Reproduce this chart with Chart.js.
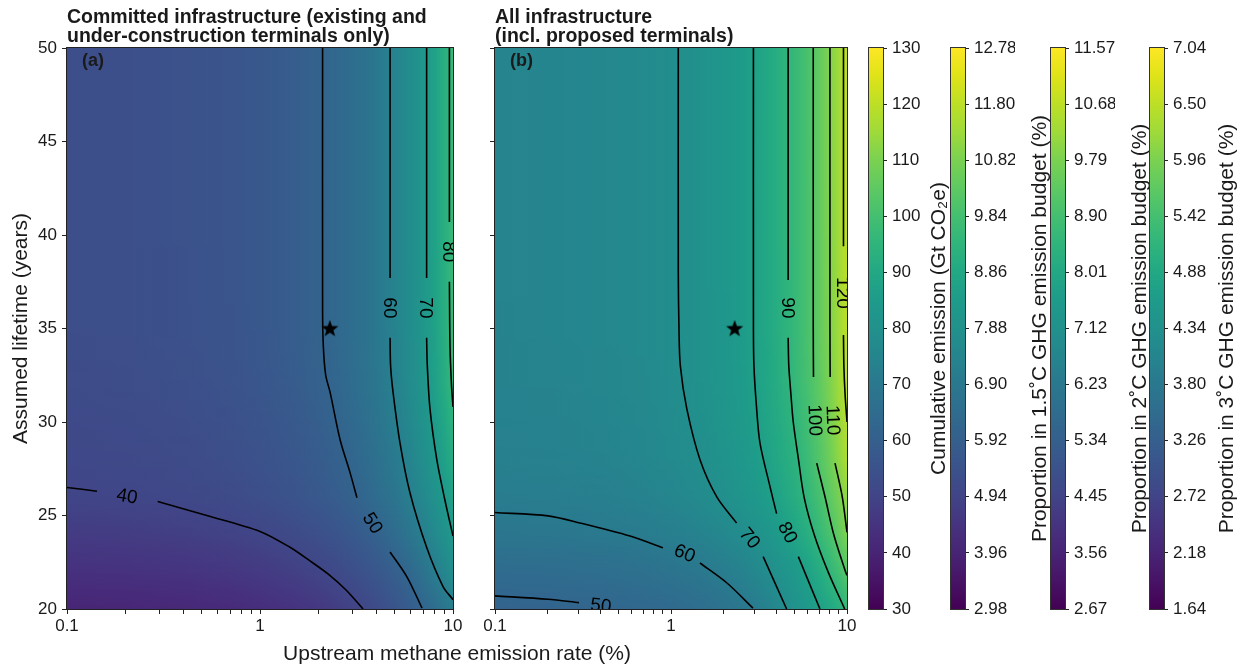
<!DOCTYPE html>
<html><head><meta charset="utf-8">
<script src="https://cdn.jsdelivr.net/npm/chart.js@4.4.1/dist/chart.umd.min.js"></script>
<style>
html,body{margin:0;padding:0;background:#fff;width:1248px;height:669px;overflow:hidden}
canvas{position:absolute;left:0;top:0}
</style></head><body>
<canvas id="pa" width="1248" height="669"></canvas>
<canvas id="pb" width="1248" height="669"></canvas>
<canvas id="c1" width="1248" height="669"></canvas>
<canvas id="c2" width="1248" height="669"></canvas>
<canvas id="c3" width="1248" height="669"></canvas>
<canvas id="c4" width="1248" height="669"></canvas>
<script>
// ---------------- DATA ----------------
const rates = [0.1,0.2,0.4,0.7,1,1.5,2,2.5,3,3.5,4,5,6,7,8,9,10];          // upstream methane emission rate (%)
const lifetimes = [20,22,24,26,28,30,32,35,40,45,50];                       // assumed lifetime (years)

// cumulative emission (Gt CO2e), rows = lifetimes, cols = rates
const emissionA = [
  [30.5,30.8,31.4,32.2,33.1,34.5,35.9,37.4,38.8,40.2,41.7,44.5,47.4,50.3,53.2,56.1,59.1],
  [34.0,34.3,34.9,35.8,36.6,38.1,39.6,41.1,42.6,44.0,45.5,48.4,51.6,55.3,59.0,62.4,65.8],
  [36.9,37.2,37.9,38.8,39.7,41.3,42.9,44.5,46.1,47.7,49.3,52.8,56.4,60.0,63.3,66.6,70.0],
  [39.6,39.9,40.6,41.6,42.6,44.3,46.0,47.7,49.4,51.1,52.9,56.3,59.8,63.3,66.7,70.0,73.4],
  [40.5,40.9,41.6,42.6,43.7,45.4,47.2,48.9,50.7,52.6,54.4,58.0,61.7,65.4,69.1,73.0,77.0],
  [41.0,41.4,42.2,43.3,44.4,46.3,48.1,50.0,51.9,53.8,55.7,59.4,63.2,67.1,70.9,75.1,79.2],
  [41.7,42.1,42.9,44.0,45.2,47.1,49.0,50.9,52.9,54.8,56.7,60.6,64.4,68.3,72.5,77.0,81.4],
  [42.3,42.7,43.5,44.6,45.7,47.7,49.6,51.5,53.4,55.3,57.2,61.1,64.9,68.7,73.0,77.6,82.1],
  [42.4,42.8,43.6,44.7,45.8,47.7,49.6,51.5,53.4,55.3,57.2,61.1,64.9,68.8,73.1,77.7,82.2],
  [42.4,42.8,43.6,44.7,45.8,47.7,49.6,51.5,53.4,55.3,57.2,61.1,64.9,68.8,73.1,77.7,82.2],
  [42.4,42.8,43.6,44.7,45.8,47.7,49.6,51.5,53.4,55.3,57.2,61.1,64.9,68.8,73.1,77.7,82.2]
];
const emissionB = [
  [48.5,48.9,49.6,50.7,51.8,53.8,56.0,58.3,60.5,63.6,66.7,71.9,75.9,79.9,83.7,87.4,91.1],
  [52.5,53.0,53.9,55.3,56.6,58.9,61.4,63.9,66.5,69.1,71.5,76.3,81.0,86.0,91.0,96.0,101.0],
  [57.9,58.4,59.3,60.7,62.1,64.4,66.7,69.1,71.6,74.2,76.8,82.1,87.3,92.6,97.8,103.6,109.6],
  [61.0,61.5,62.5,64.1,65.7,68.3,70.9,73.5,76.0,78.6,81.1,86.3,91.5,97.0,102.7,108.0,113.5],
  [62.9,63.4,64.4,66.0,67.6,70.2,72.8,75.4,78.1,80.7,83.5,88.5,94.0,100.0,106.2,112.5,118.4],
  [63.5,64.0,65.1,66.7,68.4,71.1,73.9,76.6,79.3,82.1,84.8,90.3,95.8,101.6,108.1,114.0,119.4],
  [64.1,64.6,65.7,67.4,69.1,71.8,74.5,77.3,80.0,82.9,85.9,91.7,97.2,103.0,109.4,115.2,120.6],
  [64.5,65.1,66.2,67.8,69.5,72.2,74.9,77.7,80.5,83.4,86.4,92.1,97.7,103.7,110.0,115.7,121.4],
  [64.6,65.2,66.3,67.9,69.6,72.3,75.0,77.8,80.6,83.5,86.5,92.2,97.8,103.8,110.1,115.8,121.5],
  [64.6,65.2,66.3,67.9,69.6,72.3,75.0,77.8,80.6,83.5,86.5,92.2,97.8,103.8,110.1,115.8,121.5],
  [64.6,65.2,66.3,67.9,69.6,72.3,75.0,77.8,80.6,83.5,86.5,92.2,97.8,103.8,110.1,115.8,121.5]
];

// contour lines [rate, lifetime]; null = gap for the inline label
const contourA40 = [[0.1,26.5],[0.143,26.3],null,[0.295,25.75],[0.53,25.0],[1,24.15],[1.43,23.3],[1.8,22.6],[2.3,21.8],[2.8,21.0],[3.42,20]];
const contourA50 = [[2.11,50],[2.11,36],[2.13,34],[2.19,32.5],[2.31,31.57],[2.6,29.05],[2.93,27.28],[3.18,25.95],null,[4.72,23.05],[5.78,21.71],[6.91,20.05]];
const contourA60 = [[4.72,50],[4.72,37.7],null,[4.72,34.5],[4.75,33],[4.89,31.6],[5.31,28.9],[5.99,26.2],[7.3,23.3],[8.88,21.2],[10,20.5]];
const contourA70 = [[7.3,50],[7.3,37.7],null,[7.3,34.5],[7.36,33],[7.6,30.7],[8.24,28],[9.09,25.8],[10,23.9]];
const contourA80 = [[9.58,50],[9.58,40.7],null,[9.58,37.5],[9.65,34],[9.82,32],[10,30.8]];

const contourB50 = [[0.1,20.7],[0.2,20.52],[0.3,20.34]];
const contourB60 = [[0.1,25.16],[0.2,24.98],[0.304,24.6],[0.585,23.9],[0.9,23.27],null,[1.46,22.46],[2.08,21.39],[2.92,20.05]];
const contourB70 = [[1.1,50],[1.1,38],[1.11,35],[1.13,33],[1.23,30.7],[1.46,28],[1.82,26],[2.36,24.6],null,[3.34,22.8],[4.54,20]];
const contourB80 = [[2.94,50],[2.94,35],[2.96,33],[3.05,31],[3.2,28.9],[3.65,26.55],[3.98,25.1],null,[5.29,22.8],[7.02,20]];
const contourB90 = [[4.63,50],[4.63,37.6],null,[4.63,34.5],[4.67,33],[4.8,31.5],[4.95,30],[5.3,28],[5.7,26],[6.5,24],[7.8,22],[9.7,20]];
const contourB100 = [[6.43,50],[6.43,35],[6.45,32.4],null,[6.73,27.8],[7.5,26],[8.4,24],[9.8,22],[10,21.8]];
const contourB110 = [[8.0,50],[8.0,35],[8.02,32.4],null,[8.55,27.8],[9.4,26],[10,24.1]];
const contourB120 = [[9.55,50],[9.55,39.4],null,[9.55,34.65],[9.6,33],[9.75,31.5],[10,30]];

const starPoint = [2.3, 35];

const xTickValues = [0.1,0.2,0.3,0.4,0.5,0.6,0.7,0.8,0.9,1,2,3,4,5,6,7,8,9,10];
const xMajorTicks = [0.1,1,10];
const xTickLabels = ['0.1','1','10'];
const yTickValues = [20,25,30,35,40,45,50];

const cbEmissionTicks = [30,40,50,60,70,80,90,100,110,120,130];
const cb15Ticks = [2.98,3.96,4.94,5.92,6.90,7.88,8.86,9.84,10.82,11.80,12.78];
const cb2Ticks  = [2.67,3.56,4.45,5.34,6.23,7.12,8.01,8.90,9.79,10.68,11.57];
const cb3Ticks  = [1.64,2.18,2.72,3.26,3.80,4.34,4.88,5.42,5.96,6.50,7.04];

// ---------------- LAYOUT / STYLE ----------------
const W = 1248, H = 669, TOP = 48, BOTTOM = 609;
const PA = {left:67, right:453}, PB = {left:495, right:847};
const FONT = "'Liberation Sans', Arial, Helvetica, sans-serif";
const INK = '#1a1a1a';

Chart.defaults.font.family = FONT;
Chart.defaults.color = INK;
Chart.defaults.animation = false;
Chart.defaults.responsive = false;
Chart.defaults.events = [];
Chart.defaults.plugins.legend.display = false;
Chart.defaults.plugins.tooltip.enabled = false;

const VIR = ['#440154','#471365','#482475','#46337f','#414487','#3b528b','#355f8d','#2f6c8e','#2a788e','#25858e','#21918c','#1e9b8a','#22a884','#2fb47c','#44bf70','#5ec962','#7ad151','#9fda3a','#bddf26','#dfe318','#fde725'];
const VRGB = VIR.map(h=>[parseInt(h.slice(1,3),16),parseInt(h.slice(3,5),16),parseInt(h.slice(5,7),16)]);
function viridis(t){
  t = Math.min(1, Math.max(0, t));
  const f = t*(VIR.length-1); const i = Math.min(VIR.length-2, Math.floor(f)); const u = f-i;
  const a = VRGB[i], b = VRGB[i+1];
  return 'rgb(' + Math.round(a[0]+(b[0]-a[0])*u) + ',' + Math.round(a[1]+(b[1]-a[1])*u) + ',' + Math.round(a[2]+(b[2]-a[2])*u) + ')';
}

const starImg = (() => {
  const c = document.createElement('canvas'); c.width = 20; c.height = 20;
  const g = c.getContext('2d'); g.fillStyle = '#000'; g.beginPath();
  for (let k = 0; k < 10; k++) {
    const rr = (k % 2) ? 3.7 : 9; const ang = -Math.PI/2 + k*Math.PI/5;
    g.lineTo(10 + rr*Math.cos(ang), 10.5 + rr*Math.sin(ang));
  }
  g.closePath(); g.fill(); return c;
})();

function toPts(arr){
  const out = []; let prev = null;
  for (const p of arr) {
    if (p === null) out.push({x: prev ? prev[0] : 1, y: null});
    else { out.push({x: p[0], y: p[1]}); prev = p; }
  }
  return out;
}

// field shading (gouraud-like between the grid nodes)
function fieldPlugin(grid, norm){
  return {
    id: 'field',
    beforeDatasetsDraw(chart){
      const {ctx, chartArea: a} = chart; const xs = chart.scales.x, ys = chart.scales.y;
      const px = rates.map(r => xs.getPixelForValue(r));
      const py = lifetimes.map(L => ys.getPixelForValue(L));
      const x0 = px[0], x1 = px[px.length-1], w = x1 - x0;
      ctx.save(); ctx.beginPath(); ctx.rect(a.left, a.top, a.right-a.left, a.bottom-a.top); ctx.clip();
      for (let j = 0; j < lifetimes.length-1; j++) {
        const yb = py[j], yt = py[j+1], h = yb - yt; const n = Math.max(1, Math.ceil(h/2));
        for (let s = 0; s < n; s++) {
          const f = (s+0.5)/n;
          const g = ctx.createLinearGradient(x0, 0, x1, 0);
          for (let i = 0; i < rates.length; i++) {
            const v = grid[j+1][i]*(1-f) + grid[j][i]*f;
            g.addColorStop((px[i]-x0)/w, viridis((v-norm[0])/(norm[1]-norm[0])));
          }
          const y0 = Math.floor(yt + h*s/n), y1 = Math.ceil(yt + h*(s+1)/n);
          ctx.fillStyle = g; ctx.fillRect(x0, y0, w, y1-y0);
        }
      }
      ctx.restore();
    }
  };
}

function decorPlugin(cfg){
  return {
    id: 'decor',
    afterDatasetsDraw(chart){
      const {ctx, chartArea: a} = chart; const xs = chart.scales.x, ys = chart.scales.y;
      ctx.save(); ctx.beginPath(); ctx.rect(a.left, a.top, a.right-a.left, a.bottom-a.top); ctx.clip();
      ctx.font = '19px ' + FONT; ctx.fillStyle = '#000'; ctx.textAlign = 'center'; ctx.textBaseline = 'middle';
      for (const lb of cfg.labels) {
        ctx.save(); ctx.translate(xs.getPixelForValue(lb.r), ys.getPixelForValue(lb.L));
        ctx.rotate(lb.angle*Math.PI/180); ctx.fillText(String(lb.level), 0, 1); ctx.restore();
      }
      ctx.restore();
      ctx.save(); ctx.strokeStyle = '#222'; ctx.lineWidth = 1;
      ctx.strokeRect(Math.round(a.left)-0.5, Math.round(a.top)-0.5, Math.round(a.right-a.left)+1, Math.round(a.bottom-a.top)+1);
      ctx.restore();
    },
    afterDraw(chart){
      const {ctx, chartArea: a} = chart;
      ctx.save(); ctx.fillStyle = INK; ctx.textAlign = 'left'; ctx.textBaseline = 'alphabetic';
      ctx.font = 'bold 19.5px ' + FONT;
      ctx.fillText(cfg.title[0], a.left, 22.5);
      ctx.fillText(cfg.title[1], a.left, 41.5);
      ctx.font = 'bold 18px ' + FONT;
      ctx.fillText(cfg.letter, a.left + 15, a.top + 18);
      if (cfg.axisTitles) {
        ctx.font = '21px ' + FONT; ctx.textAlign = 'center';
        ctx.fillText('Upstream methane emission rate (%)', (PA.left + PB.right)/2, 660);
        ctx.save(); ctx.translate(27, (TOP+BOTTOM)/2); ctx.rotate(-Math.PI/2);
        ctx.fillText('Assumed lifetime (years)', 0, 0); ctx.restore();
      }
      ctx.restore();
    }
  };
}

function lineDs(arr){
  return {data: toPts(arr), showLine: true, borderColor: '#000', borderWidth: 1.6, pointRadius: 0,
          tension: 0.3, spanGaps: false, fill: false, clip: 0};
}

function panel(id, box, grid, norm, contours, labels, title, letter, showYLabels, axisTitles){
  const datasets = [{data: [{x: starPoint[0], y: starPoint[1]}], pointStyle: starImg, pointRadius: 9, showLine: false, clip: false}];
  contours.forEach(c => datasets.push(lineDs(c)));
  const tickFont = {size: 17, family: FONT};
  return new Chart(document.getElementById(id), {
    type: 'scatter',
    data: {datasets},
    options: {
      layout: {padding: {left: showYLabels ? 0 : box.left - 5, right: W - box.right, top: TOP, bottom: H - BOTTOM - 30}},
      scales: {
        x: {type: 'logarithmic', min: 0.1, max: 10, position: 'bottom',
            afterBuildTicks: s => { s.ticks = xTickValues.map(v => ({value: v, major: xMajorTicks.includes(v)})); },
            afterFit: s => { s.height = 30; },
            ticks: {autoSkip: false, maxRotation: 0, minRotation: 0, padding: 2, font: tickFont, color: INK,
                    callback: v => { const k = xMajorTicks.indexOf(v); return k >= 0 ? xTickLabels[k] : ''; }},
            grid: {drawOnChartArea: false, drawTicks: true, tickLength: 5, color: '#222', lineWidth: 1},
            border: {display: true, color: '#222', width: 1}},
        y: {type: 'linear', min: 20, max: 50, position: 'left',
            afterBuildTicks: s => { s.ticks = yTickValues.map(v => ({value: v})); },
            afterFit: s => { s.width = showYLabels ? box.left : 5; },
            ticks: {padding: 5, font: tickFont, color: INK,
                    callback: v => showYLabels ? String(v) : ''},
            grid: {drawOnChartArea: false, drawTicks: true, tickLength: 5, color: '#222', lineWidth: 1},
            border: {display: true, color: '#222', width: 1}}
      }
    },
    plugins: [fieldPlugin(grid, norm), decorPlugin({labels, title, letter, axisTitles})]
  });
}

const labelsA = [
  {level: 40, r: 0.205, L: 26.05, angle: 10},
  {level: 50, r: 3.85, L: 24.6, angle: 58},
  {level: 60, r: 4.72, L: 36.1, angle: 90},
  {level: 70, r: 7.3, L: 36.1, angle: 90},
  {level: 80, r: 9.58, L: 39.1, angle: 90}
];
const labelsB = [
  {level: 50, r: 0.4, L: 20.2, angle: 6},
  {level: 60, r: 1.2, L: 23.0, angle: 22},
  {level: 70, r: 2.81, L: 23.8, angle: 51},
  {level: 80, r: 4.62, L: 24.1, angle: 63},
  {level: 90, r: 4.63, L: 36.1, angle: 90},
  {level: 100, r: 6.6, L: 30.1, angle: 88},
  {level: 110, r: 8.35, L: 30.1, angle: 88},
  {level: 120, r: 9.55, L: 36.9, angle: 90}
];

panel('pa', PA, emissionA, [21, 112], [contourA40, contourA50, contourA60, contourA70, contourA80], labelsA,
      ['Committed infrastructure (existing and', 'under-construction terminals only)'], '(a)', true, true);
panel('pb', PB, emissionB, [9, 134], [contourB50, contourB60, contourB70, contourB80, contourB90, contourB100, contourB110, contourB120], labelsB,
      ['All infrastructure', '(incl. proposed terminals)'], '(b)', false, false);

// ---------------- COLORBARS ----------------
function cbar(id, left, ticks, fmt, title, titleOffset){
  const right = left + 14;
  return new Chart(document.getElementById(id), {
    type: 'scatter',
    data: {datasets: []},
    options: {
      layout: {padding: {left: left, right: W - right - 50, top: TOP, bottom: H - BOTTOM}},
      scales: {
        x: {display: false, min: 0, max: 1},
        y: {type: 'linear', position: 'right', min: ticks[0], max: ticks[ticks.length-1],
            afterBuildTicks: s => { s.ticks = ticks.map(v => ({value: v})); },
            afterFit: s => { s.width = 50; },
            ticks: {padding: 5, font: {size: 17, family: FONT}, color: INK, callback: v => fmt(v)},
            grid: {drawOnChartArea: false, drawTicks: true, tickLength: 4, color: '#222'},
            border: {display: false}}
      }
    },
    plugins: [{
      id: 'cb',
      beforeDatasetsDraw(chart){
        const {ctx, chartArea: a} = chart;
        const g = ctx.createLinearGradient(0, a.bottom, 0, a.top);
        VIR.forEach((c, i) => g.addColorStop(i/(VIR.length-1), c));
        ctx.save(); ctx.fillStyle = g; ctx.fillRect(a.left, a.top, a.right-a.left, a.bottom-a.top);
        ctx.strokeStyle = '#333'; ctx.lineWidth = 1;
        ctx.strokeRect(Math.round(a.left)-0.5, Math.round(a.top)-0.5, Math.round(a.right-a.left)+1, Math.round(a.bottom-a.top)+1);
        ctx.restore();
      },
      afterDraw(chart){
        const {ctx, chartArea: a} = chart;
        ctx.save(); ctx.fillStyle = INK; ctx.font = '21px ' + FONT; ctx.textAlign = 'center'; ctx.textBaseline = 'alphabetic';
        ctx.translate(a.right + titleOffset, (a.top + a.bottom)/2); ctx.rotate(-Math.PI/2);
        ctx.fillText(title, 0, 0); ctx.restore();
      }
    }]
  });
}
cbar('c1', 869, cbEmissionTicks, v => String(Math.round(v)), 'Cumulative emission (Gt CO\u2082e)', 62);
cbar('c2', 951, cb15Ticks, v => v.toFixed(2), 'Proportion in 1.5\u02DAC GHG emission budget (%)', 81);
cbar('c3', 1051, cb2Ticks, v => v.toFixed(2), 'Proportion in 2\u02DAC GHG emission budget (%)', 81);
cbar('c4', 1150, cb3Ticks, v => v.toFixed(2), 'Proportion in 3\u02DAC GHG emission budget (%)', 69);
</script>
</body></html>
